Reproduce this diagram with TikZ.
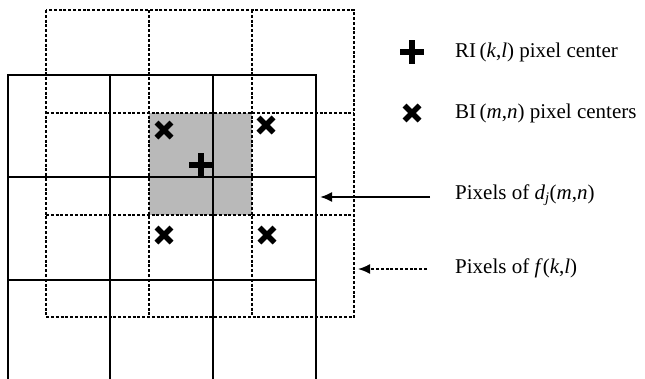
\documentclass[tikz,border=0pt]{standalone}
\usepackage{fontspec}
\setmainfont{Liberation Serif}
\usetikzlibrary{arrows.meta}
\begin{document}
\begin{tikzpicture}[x=1pt,y=-1pt,
  solidgrid/.style={line width=2pt},
  dashgrid/.style={line width=1.7pt,dash pattern=on 3pt off 1.8pt},
  symb/.style={line width=5.5pt},
  lbl/.style={anchor=west,inner sep=0pt,font=\fontsize{21}{25}\selectfont},
  arr/.style={line width=2pt,-{Latex[length=12pt,width=10pt]}}]
\useasboundingbox (0,0) rectangle (645,378);
\clip (0,0) rectangle (645,378);
% gray cell
\fill[gray!55] (149,113) rectangle (252,215);
% dashed grid f(k,l)
\draw[dashgrid] (46,10) rectangle (354,317);
\foreach \x in {149,252} \draw[dashgrid] (\x,10) -- (\x,317);
\foreach \y in {113,215} \draw[dashgrid] (46,\y) -- (354,\y);
% solid grid d_j(m,n)
\draw[solidgrid] (8,380) -- (8,75) -- (316,75) -- (316,380);
\foreach \x in {110,213} \draw[solidgrid] (\x,75) -- (\x,380);
\foreach \y in {177,280} \draw[solidgrid] (8,\y) -- (316,\y);
% BI markers
\foreach \cx/\cy in {164/130,266/125,164/235,267/235}
  \draw[symb] (\cx-7.5,\cy-7.5) -- (\cx+7.5,\cy+7.5) (\cx-7.5,\cy+7.5) -- (\cx+7.5,\cy-7.5);
% RI marker
\draw[symb] (189,165) -- (212,165) (201,153) -- (201,177);
% legend
\draw[symb] (400,52) -- (424,52) (412,40) -- (412,64);
\draw[symb] (404.5,105.5) -- (419.5,120.5) (404.5,120.5) -- (419.5,105.5);
\node[lbl] (ri) at (455,52) {RI\,(\textit{k},\textit{l}) pixel center};
\node[lbl] (bi) at (455,113) {BI\,(\textit{m},\textit{n}) pixel centers};
\node[lbl] (dj) at (455,195) {Pixels of \textit{d}\textsubscript{\textit{j}}(\textit{m},\textit{n})};
\node[lbl] (fk) at (455,268) {Pixels of \textit{f}(\textit{k},\textit{l})};
\coordinate (a1) at (430,197);
\coordinate (a1e) at (320,197);
\coordinate (a2) at (427,269);
\coordinate (a2e) at (358,269);
\draw[arr] (a1) -- (a1e);
\draw[arr,dash pattern=on 3pt off 1.8pt,line width=1.7pt] (a2) -- (a2e);
\end{tikzpicture}
\end{document}
